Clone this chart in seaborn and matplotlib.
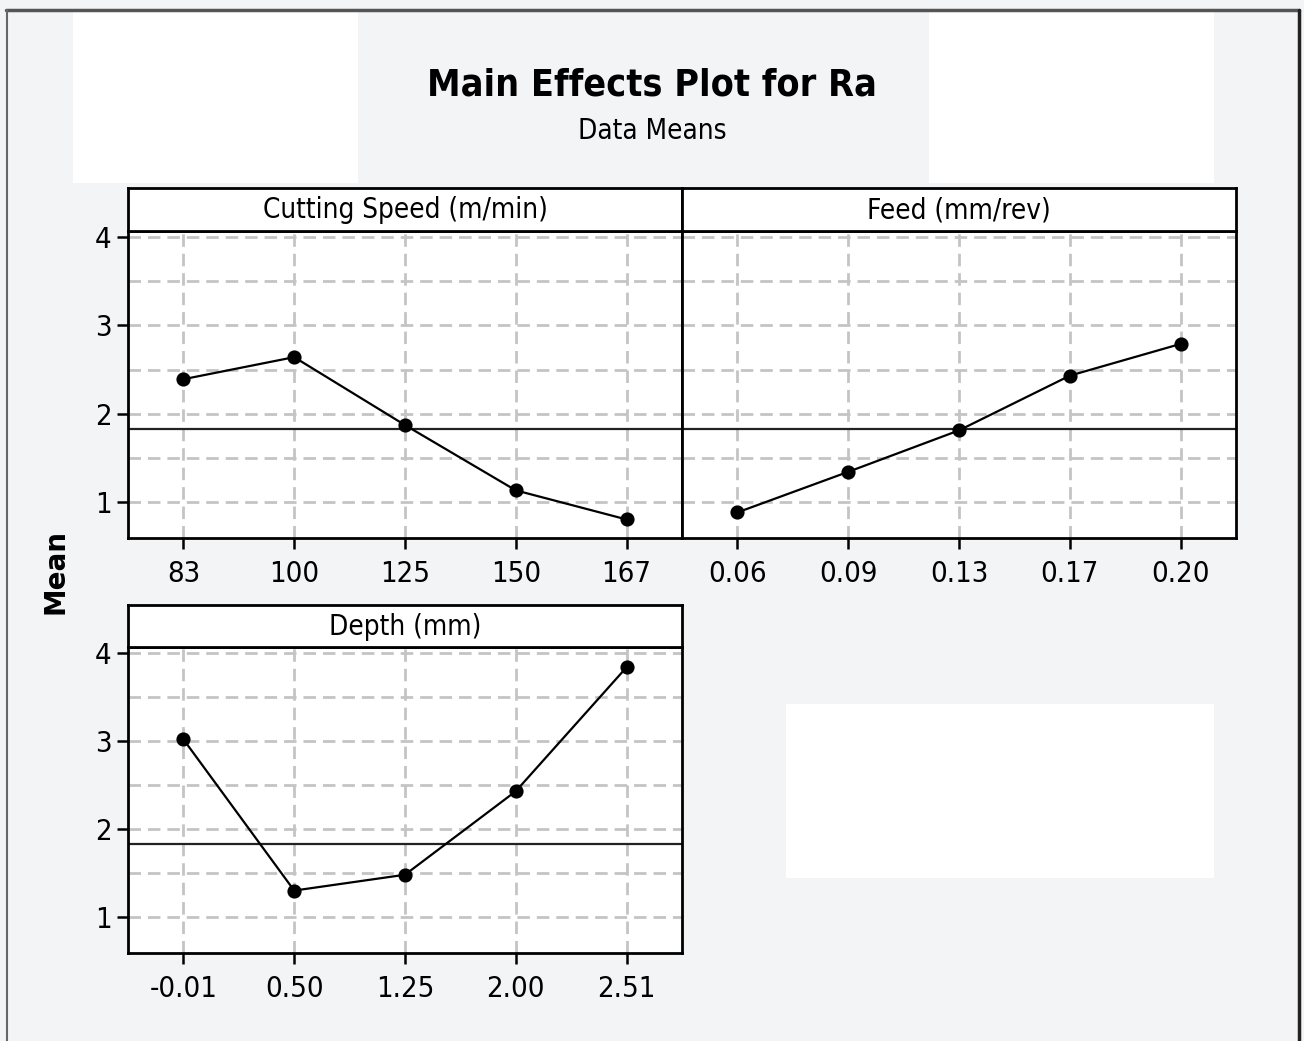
import matplotlib
matplotlib.use("Agg")
import matplotlib.pyplot as plt
from matplotlib.patches import Rectangle
from matplotlib.lines import Line2D
import seaborn as sns
import pandas as pd

# Factor levels and mean Ra at each level
speed_levels = ["83", "100", "125", "150", "167"]
speed_means = [2.39, 2.64, 1.87, 1.13, 0.80]

feed_levels = ["0.06", "0.09", "0.13", "0.17", "0.20"]
feed_means = [0.88, 1.34, 1.81, 2.43, 2.79]

depth_levels = ["-0.01", "0.50", "1.25", "2.00", "2.51"]
depth_means = [3.02, 1.30, 1.48, 2.43, 3.84]

grand_mean = 1.83

panel_titles = ["Cutting Speed (m/min)", "Feed (mm/rev)", "Depth (mm)"]
y_ticks = [1, 2, 3, 4]
grid_levels = [1.0, 1.5, 2.0, 2.5, 3.0, 3.5, 4.0]

sns.set_theme(style="white")
plt.rcParams["font.family"] = ["DejaVu Sans"]
plt.rcParams["font.stretch"] = "condensed"

BG = "#f3f4f6"
W, H = 1304, 1041
fig = plt.figure(figsize=(W / 100, H / 100), dpi=100, facecolor=BG)


def fx(px):
    return px / W


def fy(py):
    return 1 - py / H


# White blocks and frame around the figure
for (x0, y0, x1, y1) in [(73, 12, 358, 183), (929, 12, 1214, 183), (786, 704, 1214, 878)]:
    fig.patches.append(Rectangle((fx(x0), fy(y1)), fx(x1 - x0), (y1 - y0) / H,
                                 transform=fig.transFigure, facecolor="white",
                                 edgecolor="none", zorder=0))
fig.lines.append(Line2D([fx(6), fx(1299)], [fy(10), fy(10)], transform=fig.transFigure,
                        color="#555555", lw=2.5))
fig.lines.append(Line2D([fx(7), fx(7)], [fy(10), 0], transform=fig.transFigure,
                        color="#666666", lw=1.5))
fig.lines.append(Line2D([fx(1299), fx(1299)], [fy(10), 0], transform=fig.transFigure,
                        color="#222222", lw=2.5))

fig.text(0.5, fy(86), "Main Effects Plot for Ra", ha="center", va="center",
         fontsize=27, fontweight="bold", color="black", fontstretch="condensed")
fig.text(0.5, fy(131), "Data Means", ha="center", va="center",
         fontsize=20, color="black", fontstretch="condensed")
fig.text(fx(56), fy(572), "Mean", ha="center", va="center", rotation=90,
         fontsize=20, fontweight="bold", fontstretch="normal", color="black")

# Panel boxes in pixels: (left, strip top, plot top, right, plot bottom)
boxes = [
    (128, 188, 231, 682, 538),
    (682, 188, 231, 1236, 538),
    (128, 605, 647, 682, 953),
]
datasets = [
    (speed_levels, speed_means),
    (feed_levels, feed_means),
    (depth_levels, depth_means),
]

for i, ((l, st, pt, r, pb), (levels, means), title) in enumerate(zip(boxes, datasets, panel_titles)):
    ax = fig.add_axes([fx(l), fy(pb), fx(r - l), (pb - pt) / H])
    ax.set_facecolor("white")
    df = pd.DataFrame({"level": levels, "mean": means})

    ax.set_xlim(-0.5, len(levels) - 0.5)
    ax.set_ylim(0.59, 4.07)
    for g in grid_levels:
        ax.axhline(g, color="#c4c4c4", lw=2, ls=(0, (4.5, 2.5)), zorder=0)
    for k in range(len(levels)):
        ax.axvline(k, color="#c4c4c4", lw=2, ls=(0, (4.5, 2.5)), zorder=0)
    ax.axhline(grand_mean, color="#222222", lw=1.6, zorder=1)

    sns.pointplot(data=df, x="level", y="mean", order=levels, color="black",
                  markers="o", linestyles="-", errorbar=None, ax=ax,
                  markersize=9, linewidth=1.6, zorder=3)
    ax.set_xlim(-0.5, len(levels) - 0.5)
    ax.set_ylim(0.59, 4.07)

    ax.set_xlabel("")
    ax.set_ylabel("")
    ax.set_yticks(y_ticks)
    ax.tick_params(axis="both", which="both", direction="out", length=8, width=1.8,
                   color="black", labelsize=21, labelcolor="black", pad=4,
                   bottom=True, left=True)
    ax.tick_params(axis="x", pad=8)
    if i == 1:
        ax.tick_params(axis="y", left=False, labelleft=False)
    for s in ax.spines.values():
        s.set_color("black")
        s.set_linewidth(2)
        s.set_visible(True)
    ax.grid(False)

    # Panel header strip
    sax = fig.add_axes([fx(l), fy(pt), fx(r - l), (pt - st) / H])
    sax.set_facecolor("white")
    sax.set_xticks([])
    sax.set_yticks([])
    for s in sax.spines.values():
        s.set_color("black")
        s.set_linewidth(2)
        s.set_visible(True)
    sax.text(0.5, 0.48, title, ha="center", va="center", fontsize=20,
             transform=sax.transAxes, color="black", fontstretch="condensed")

fig.savefig("out.png", dpi=100, facecolor=BG)
